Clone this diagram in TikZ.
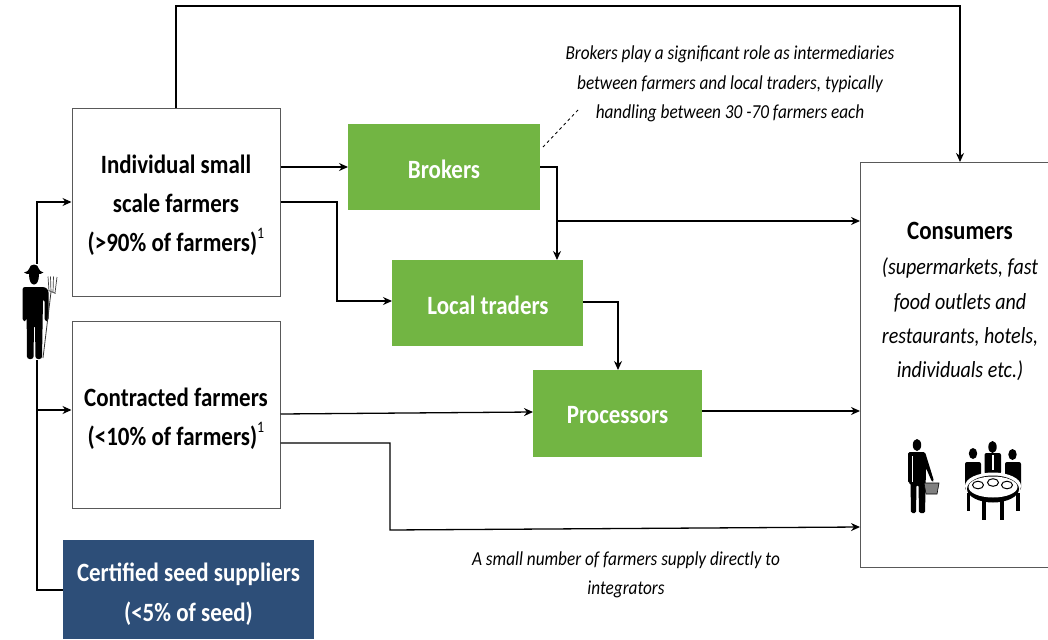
\documentclass[tikz,border=0pt]{standalone}
\usepackage{fontspec}
\setmainfont{Carlito}[FakeStretch=0.87]
\usetikzlibrary{arrows.meta,calc}
\definecolor{boxgreen}{RGB}{114,181,67}
\definecolor{boxnavy}{RGB}{45,78,120}
\tikzset{
  whitebox/.style={draw=black!65,line width=1pt,fill=white,inner sep=0pt},
  greenbox/.style={fill=boxgreen,inner sep=0pt},
  navybox/.style={fill=boxnavy,inner sep=0pt},
  lighttext/.style={text=white,font=\fontsize{26.4}{40}\selectfont\bfseries,inner sep=0pt,align=center},
  boxtitle/.style={font=\fontsize{26.4}{39}\selectfont\bfseries,align=center,inner sep=0pt},
  note/.style={font=\fontsize{19.8}{29.5}\selectfont\itshape,align=center,inner sep=0pt},
  arr/.style={draw=black,line width=1.3pt,-{Stealth[length=9pt,width=8pt]}},
  plain/.style={draw=black,line width=1.3pt},
  ink/.style={fill=black,draw=none},
}
\newcommand{\fnmark}{\raisebox{.5em}{\normalfont\fontsize{16}{16}\selectfont 1}}
\begin{document}
\begin{tikzpicture}[x=1pt,y=-1pt]
\useasboundingbox (0,0) rectangle (1048,639);
% boxes
\node[whitebox,minimum width=208pt,minimum height=187pt] (ind) at (176,202.5) {};
\node[whitebox,minimum width=208pt,minimum height=187pt] (con) at (176,414.5) {};
\node[whitebox,minimum width=200pt,minimum height=405pt,anchor=north west] (cons) at (860,162) {};
\node[navybox,minimum width=251pt,minimum height=99pt,anchor=north west] (seed) at (63,540) {};
\node[greenbox,minimum width=192pt,minimum height=86pt,anchor=north west] (brk) at (348,124) {};
\node[greenbox,minimum width=191pt,minimum height=86pt,anchor=north west] (loc) at (392,260) {};
\node[greenbox,minimum width=169pt,minimum height=87pt,anchor=north west] (pro) at (533,370) {};
% box text
\node[lighttext] (seedt) at (188.5,594.5) {Certified seed suppliers\\(<5\% of seed)};
\node[lighttext] (brkt) at (444,169) {Brokers};
\node[lighttext] (loct) at (488,305) {Local traders};
\node[lighttext] (prot) at (617.5,415) {Processors};
\node[boxtitle] (indt) at (176,205.5) {Individual small\\scale farmers\\(>90\% of farmers)\fnmark};
\node[boxtitle] (cont) at (176,418.5) {Contracted farmers\\(<10\% of farmers)\fnmark};
\node[font=\fontsize{26.4}{32}\selectfont\bfseries,inner sep=0pt] (const) at (960,231) {Consumers};
\node[font=\fontsize{23}{34.3}\selectfont\itshape,align=center,inner sep=0pt] (consd) at (960,319.5) {(supermarkets, fast\\food outlets and\\restaurants, hotels,\\individuals etc.)};
\node[note] (n1) at (730,84) {Brokers play a significant role as intermediaries\\between farmers and local traders, typically\\handling between 30 -70 farmers each};
\node[note] (n2) at (626,575) {A small number of farmers supply directly to\\integrators};
% farmer anchor
\coordinate (fm) at (37,270);
\coordinate (fb) at (37,590);
% connectors
\draw[plain] (fm) -- (fb) -- (seed.west |- fb);
\draw[arr] (fm) |- (ind.west |- 0,202);
\draw[arr] (37,360) |- (con.west |- 0,410);
\draw[arr] (ind.north) -- (176,6) -- (960,6) -- (cons.north -| 960,0);
\draw[arr] (ind.east |- 0,167) -- (brk.west |- 0,167);
\draw[arr] (ind.east |- 0,202) -- (337,202) -- (337,301) -- (loc.west |- 0,301);
\draw[arr] (brk.east |- 0,167) -- (557,167) -- (loc.north -| 557,0);
\draw[arr] (557,221) -- (cons.west |- 0,221);
\draw[arr] (loc.east |- 0,302) -- (618,302) -- (pro.north -| 618,0);
\draw[arr] (con.east |- 0,414) -- (pro.west |- 0,412);
\draw[arr] (pro.east |- 0,411) -- (cons.west |- 0,411);
\draw[arr] (con.east |- 0,443) -- (390,443) -- (390,530) -- (cons.west |- 0,527);
\draw[draw=black,line width=.8pt,dashed] (543,147) -- (578,110);
% farmer icon
\begin{scope}
\fill[white] (22,264) rectangle (58,360);
\fill[ink] (24,272.5) .. controls (27,271.5) and (28.5,271) .. (29,269) .. controls (29.5,263) and (38.5,263) .. (39,269) .. controls (39.5,271) and (41,271.5) .. (43.5,272.5) .. controls (41,274) and (40,274) .. (39,274) .. controls (39,281) and (37,284.5) .. (34,284.5) .. controls (31,284.5) and (29,281) .. (29,274) .. controls (28,274) and (26,274) .. (24,272.5) -- cycle;
\fill[ink,rounded corners=2.5pt] (22.5,287) -- (45,287) -- (48.5,290) -- (48.5,321) -- (44.5,321) -- (44.5,299) -- (43,299) -- (42,359) -- (35.5,359) -- (35,325) -- (34,325) -- (33.5,359) -- (27,359) -- (26.5,299) -- (26.5,321) -- (22.5,321) -- cycle;
\draw[line width=.8pt,black!80] (43,358) -- (51,292);
\draw[line width=.7pt,black!75] (49,291) -- (48,276.5) (51,292) -- (50.5,276.5) (53,292.5) -- (53.5,276.5) (55,293) -- (57,277) (48.5,290.5) -- (55.5,293.5);
\end{scope}
% shopper icon
\begin{scope}
\fill[ink] (917,445) ellipse (4.2pt and 6pt);
\fill[ink,rounded corners=1.5pt] (908,452) -- (925,452) -- (934,481) -- (932,482) -- (926,468) -- (925,513) -- (919,513) -- (918.5,485) -- (916.5,485) -- (916,513) -- (911,513) -- (910.5,483) -- (908,483) -- cycle;
\fill[white] (912,456) rectangle (913,482);
\draw[line width=.6pt,fill=black!50] (924,483) -- (939,483) -- (937,494) -- (926,494) -- cycle;
\end{scope}
% table icon
\begin{scope}
\fill[ink] (973,453.5) ellipse (4.2pt and 5.5pt);
\fill[ink] (992.5,447) ellipse (4.2pt and 6pt);
\fill[ink] (1012.5,454.5) ellipse (4.2pt and 5.5pt);
\fill[ink,rounded corners=2pt] (965,462) -- (981,462) -- (981,490) -- (965,490) -- cycle;
\fill[ink,rounded corners=2pt] (984.5,453) -- (1001,453) -- (1001,474) -- (984.5,474) -- cycle;
\fill[white] (992,455) -- (993.5,455) -- (993.5,470) -- (992,470) -- cycle;
\fill[ink,rounded corners=2pt] (1005,462) -- (1021,462) -- (1021,490) -- (1005,490) -- cycle;
\fill[white] (993,486) ellipse (28pt and 13.5pt);
\fill[ink] (966.5,493) rectangle (970,510.5);
\fill[ink] (1016,493) rectangle (1019.5,510.5);
\fill[ink] (982,497) rectangle (986,520);
\fill[ink] (1000,497) rectangle (1004,520);
\fill[ink] (993,489) ellipse (26pt and 13.5pt);
\fill[white] (993,487) ellipse (24.5pt and 10.5pt);
\draw[line width=1pt] (978,485) ellipse (5.5pt and 3.8pt) (993,482.5) ellipse (5.5pt and 3.8pt) (1007,485) ellipse (5.5pt and 3.8pt);
\end{scope}
\end{tikzpicture}
\end{document}
